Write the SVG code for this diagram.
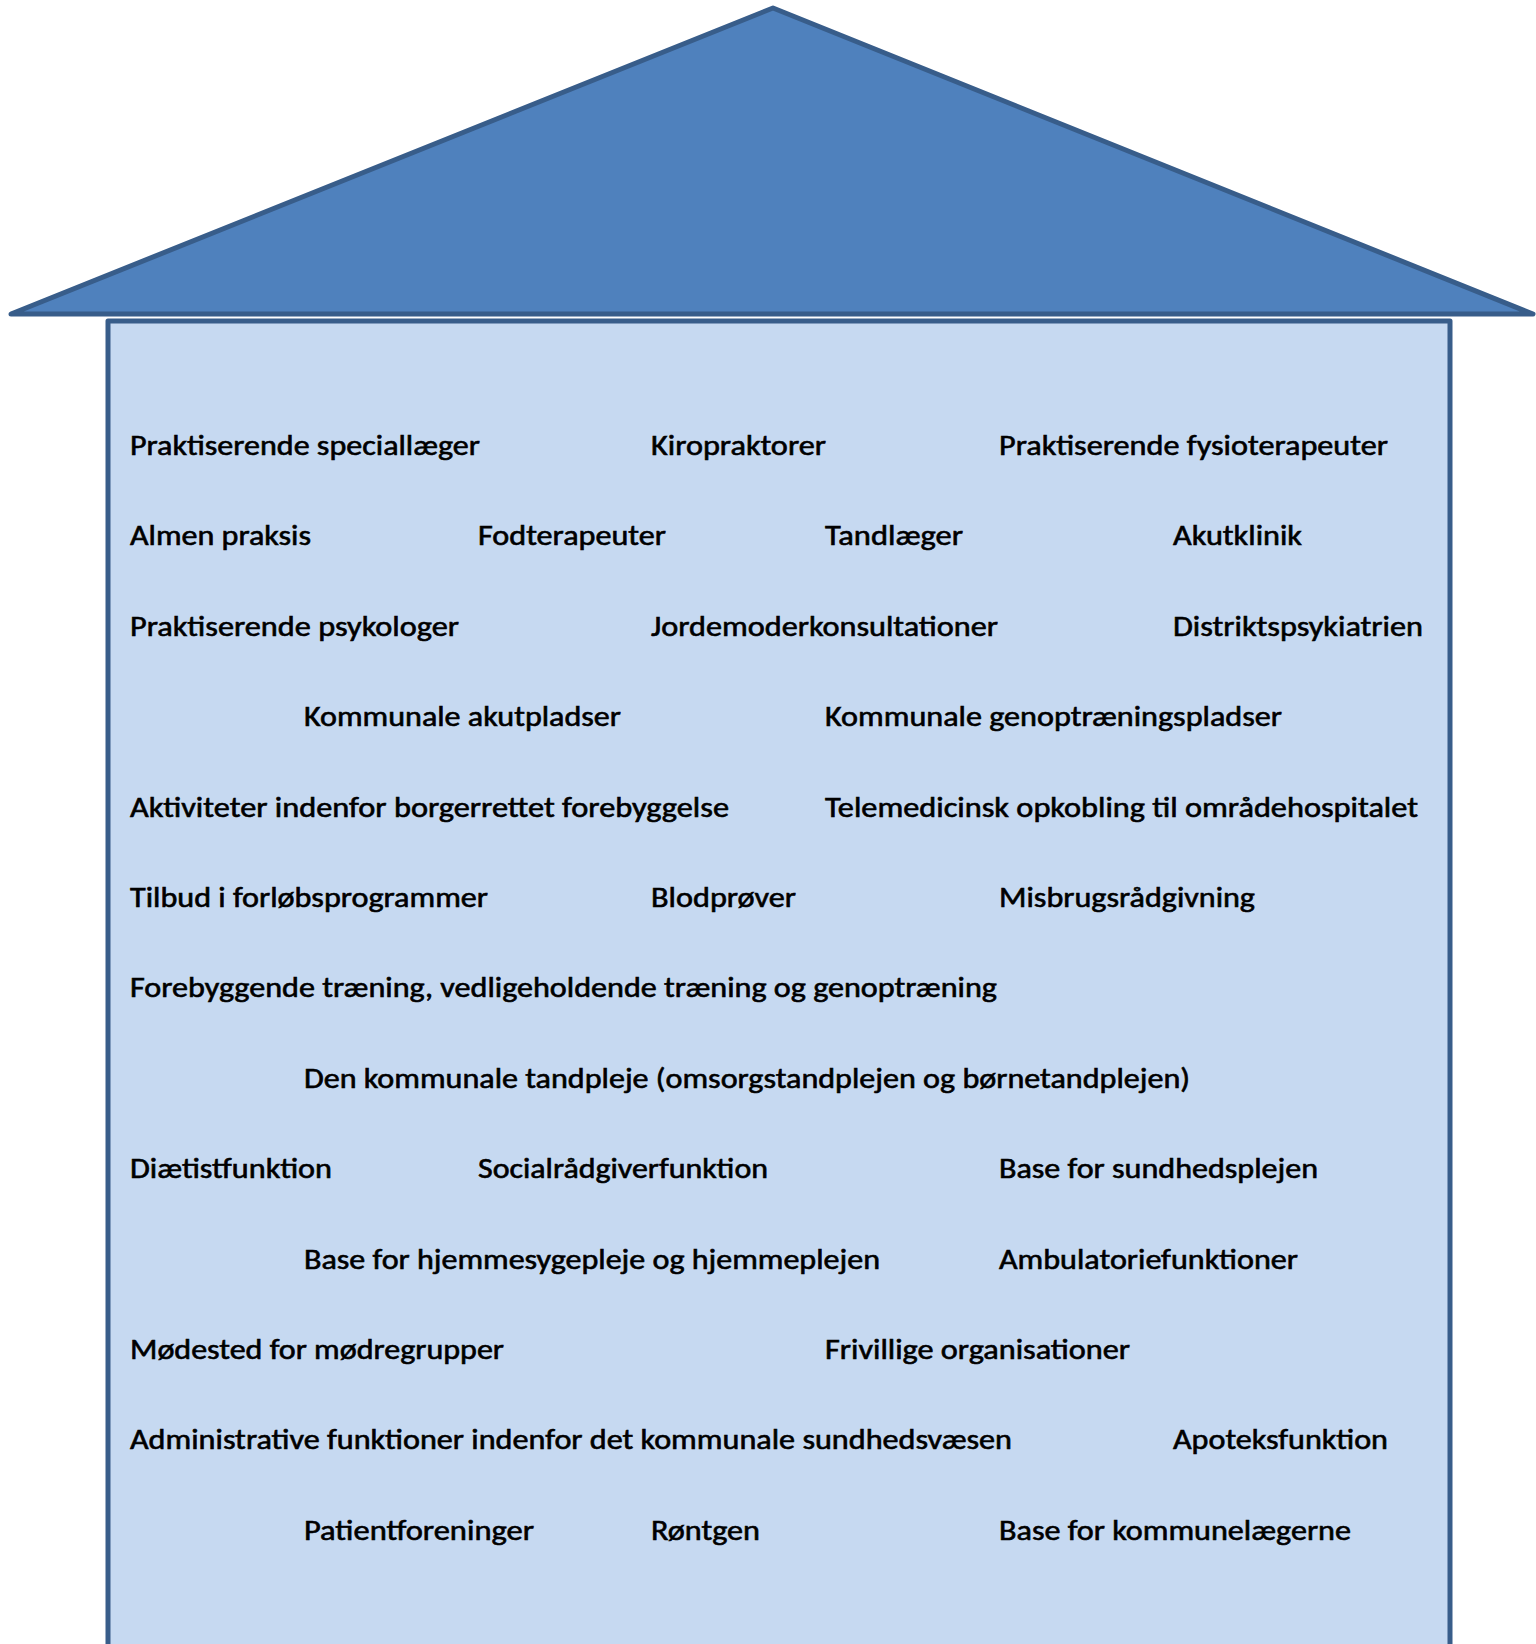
<svg xmlns="http://www.w3.org/2000/svg" width="1536" height="1644" viewBox="0 0 1536 1644">
  <style>
    .roof { fill: #4f81bd; stroke: #385d8a; stroke-width: 5; stroke-linejoin: round; }
    .body { fill: #c6d9f1; stroke: #385d8a; stroke-width: 5; stroke-linejoin: round; }
    .lbl { font-family: Carlito, Lato, "Open Sans", sans-serif; font-size: 28.5px; fill: #000; stroke: #000; stroke-width: 0.6px; }
  </style>
  <rect width="1536" height="1644" fill="#ffffff"/>
  <!-- house shape -->
  <g id="roof"><polygon class="roof" points="11,314 773,8 1533,314"/></g>
  <g id="body"><rect class="body" x="108" y="321" width="1342" height="1340"/></g>
  <g id="connectors"/>
  <!-- services housed in the building -->
  <g id="labels" class="lbl">
    <text id="t1a" x="130" y="455" textLength="350" lengthAdjust="spacingAndGlyphs">Praktiserende speciallæger</text>
    <text id="t1b" x="651" y="455" textLength="175" lengthAdjust="spacingAndGlyphs">Kiropraktorer</text>
    <text id="t1c" x="999" y="455" textLength="389" lengthAdjust="spacingAndGlyphs">Praktiserende fysioterapeuter</text>

    <text id="t2a" x="130" y="545" textLength="181" lengthAdjust="spacingAndGlyphs">Almen praksis</text>
    <text id="t2b" x="478" y="545" textLength="188" lengthAdjust="spacingAndGlyphs">Fodterapeuter</text>
    <text id="t2c" x="825" y="545" textLength="138" lengthAdjust="spacingAndGlyphs">Tandlæger</text>
    <text id="t2d" x="1173" y="545" textLength="129" lengthAdjust="spacingAndGlyphs">Akutklinik</text>

    <text id="t3a" x="130" y="636" textLength="329" lengthAdjust="spacingAndGlyphs">Praktiserende psykologer</text>
    <text id="t3b" x="651" y="636" textLength="347" lengthAdjust="spacingAndGlyphs">Jordemoderkonsultationer</text>
    <text id="t3c" x="1173" y="636" textLength="250" lengthAdjust="spacingAndGlyphs">Distriktspsykiatrien</text>

    <text id="t4a" x="304" y="726" textLength="317" lengthAdjust="spacingAndGlyphs">Kommunale akutpladser</text>
    <text id="t4b" x="825" y="726" textLength="457" lengthAdjust="spacingAndGlyphs">Kommunale genoptræningspladser</text>

    <text id="t5a" x="130" y="817" textLength="599" lengthAdjust="spacingAndGlyphs">Aktiviteter indenfor borgerrettet forebyggelse</text>
    <text id="t5b" x="825" y="817" textLength="593" lengthAdjust="spacingAndGlyphs">Telemedicinsk opkobling til områdehospitalet</text>

    <text id="t6a" x="130" y="907" textLength="358" lengthAdjust="spacingAndGlyphs">Tilbud i forløbsprogrammer</text>
    <text id="t6b" x="651" y="907" textLength="145" lengthAdjust="spacingAndGlyphs">Blodprøver</text>
    <text id="t6c" x="999" y="907" textLength="256" lengthAdjust="spacingAndGlyphs">Misbrugsrådgivning</text>

    <text id="t7a" x="130" y="997" textLength="867" lengthAdjust="spacingAndGlyphs">Forebyggende træning, vedligeholdende træning og genoptræning</text>

    <text id="t8a" x="304" y="1088" textLength="886" lengthAdjust="spacingAndGlyphs">Den kommunale tandpleje (omsorgstandplejen og børnetandplejen)</text>

    <text id="t9a" x="130" y="1178" textLength="202" lengthAdjust="spacingAndGlyphs">Diætistfunktion</text>
    <text id="t9b" x="478" y="1178" textLength="290" lengthAdjust="spacingAndGlyphs">Socialrådgiverfunktion</text>
    <text id="t9c" x="999" y="1178" textLength="319" lengthAdjust="spacingAndGlyphs">Base for sundhedsplejen</text>

    <text id="t10a" x="304" y="1269" textLength="576" lengthAdjust="spacingAndGlyphs">Base for hjemmesygepleje og hjemmeplejen</text>
    <text id="t10b" x="999" y="1269" textLength="299" lengthAdjust="spacingAndGlyphs">Ambulatoriefunktioner</text>

    <text id="t11a" x="130" y="1359" textLength="374" lengthAdjust="spacingAndGlyphs">Mødested for mødregrupper</text>
    <text id="t11b" x="825" y="1359" textLength="305" lengthAdjust="spacingAndGlyphs">Frivillige organisationer</text>

    <text id="t12a" x="130" y="1449" textLength="882" lengthAdjust="spacingAndGlyphs">Administrative funktioner indenfor det kommunale sundhedsvæsen</text>
    <text id="t12b" x="1173" y="1449" textLength="215" lengthAdjust="spacingAndGlyphs">Apoteksfunktion</text>

    <text id="t13a" x="304" y="1540" textLength="230" lengthAdjust="spacingAndGlyphs">Patientforeninger</text>
    <text id="t13b" x="651" y="1540" textLength="109" lengthAdjust="spacingAndGlyphs">Røntgen</text>
    <text id="t13c" x="999" y="1540" textLength="352" lengthAdjust="spacingAndGlyphs">Base for kommunelægerne</text>
  </g>
</svg>
